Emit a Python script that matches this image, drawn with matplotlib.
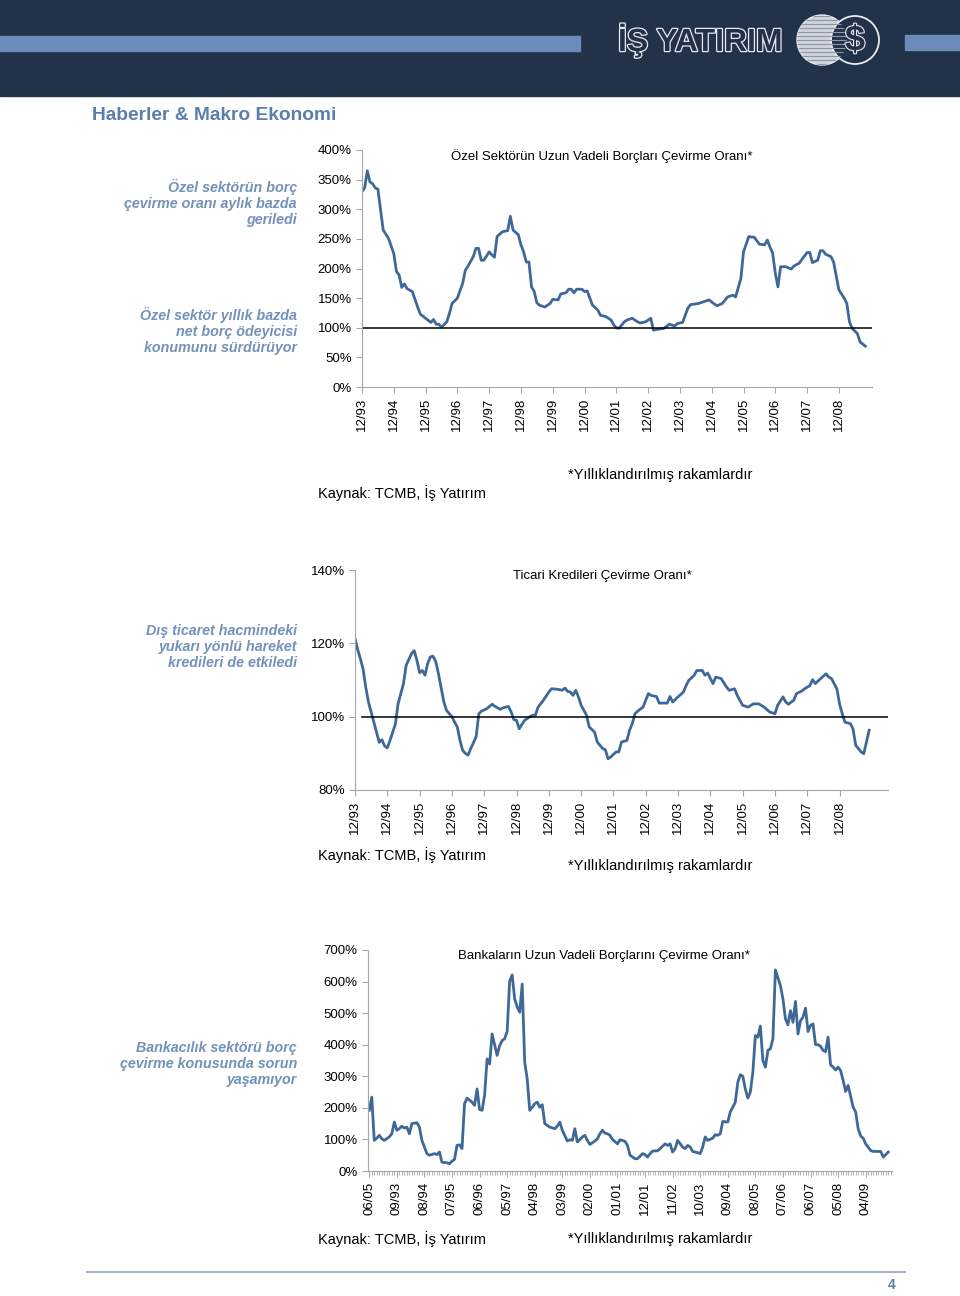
import matplotlib
matplotlib.use("Agg")
import matplotlib.pyplot as plt
from matplotlib.patches import Rectangle, Circle
import matplotlib.patheffects as pe

plt.rcParams['font.family'] = ['Liberation Sans', 'DejaVu Sans']

W, H = 960, 1296

# --- chart 1: Ozel sektor uzun vadeli borc cevirme orani (month index from 12/93) ---
m1 = [0, 1, 2, 3, 4, 5, 6, 8, 9, 10, 12, 13, 14, 15, 16, 17, 19, 21, 22, 24, 26, 27, 28, 29, 30,
      32, 33, 34, 36, 38, 39, 40, 42, 43, 44, 45, 46, 48, 49, 50, 51, 53, 55, 56, 57, 59, 60, 61,
      62, 63, 64, 65, 66, 67, 69, 71, 72, 74, 75, 77, 78, 79, 80, 81, 83, 84, 85, 86, 87, 89, 90,
      92, 94, 95, 96, 97, 99, 100, 102, 104, 105, 107, 109, 110, 111, 114, 116, 118, 119, 121,
      123, 124, 127, 129, 131, 133, 134, 136, 138, 140, 141, 143, 144, 146, 147, 148, 150, 152,
      153, 154, 155, 156, 157, 158, 160, 162, 163, 165, 166, 168, 169, 170, 172, 173, 174, 175,
      177, 178, 179, 180, 182, 183, 184, 185, 187, 188, 190]
v1 = [330, 336, 365, 346, 343, 336, 334, 265, 258, 251, 225, 195, 189, 168, 174, 166, 161, 135,
      123, 116, 109, 114, 106, 106, 101, 110, 124, 141, 150, 175, 197, 204, 220, 234, 234, 214,
      214, 228, 223, 219, 254, 262, 264, 288, 265, 257, 240, 228, 211, 211, 169, 161, 142, 138,
      135, 141, 148, 147, 157, 159, 165, 165, 159, 165, 165, 161, 162, 150, 138, 130, 121, 119,
      113, 105, 100, 99, 110, 113, 116, 110, 108, 110, 116, 96, 97, 99, 106, 103, 107, 109, 133,
      139, 141, 144, 147, 140, 137, 141, 152, 155, 152, 183, 228, 254, 253, 253, 241, 240, 248,
      236, 226, 192, 169, 203, 203, 199, 204, 209, 215, 227, 227, 210, 214, 230, 230, 224, 220,
      211, 187, 164, 150, 141, 110, 99, 90, 76, 69]
ticks1 = ["12/93", "12/94", "12/95", "12/96", "12/97", "12/98", "12/99", "12/00",
          "12/01", "12/02", "12/03", "12/04", "12/05", "12/06", "12/07", "12/08"]

# --- chart 2: Ticari kredileri cevirme orani (month index from 12/93) ---
m2 = [0, 1, 2, 3, 4, 5, 7, 8, 9, 10, 11, 12, 13, 15, 16, 18, 19, 21, 22, 23, 24, 25, 26, 27, 28,
      29, 30, 31, 33, 34, 36, 37, 38, 39, 40, 41, 42, 43, 45, 46, 47, 49, 51, 52, 54, 55, 57, 58,
      59, 60, 61, 62, 63, 65, 66, 67, 68, 70, 72, 73, 75, 77, 78, 79, 80, 81, 82, 83, 84, 86, 87,
      89, 90, 92, 93, 94, 95, 97, 98, 99, 101, 102, 103, 104, 105, 107, 108, 109, 110, 112, 113,
      116, 117, 118, 120, 122, 123, 124, 126, 127, 129, 130, 131, 133, 134, 136, 138, 139, 141,
      142, 144, 146, 148, 150, 152, 154, 156, 157, 159, 160, 161, 163, 164, 166, 167, 169, 170,
      171, 173, 175, 176, 177, 179, 180, 181, 182, 184, 185, 186, 188, 189, 191]
v2 = [121.3, 118.3, 115.8, 113, 108, 104, 98.5, 95.8, 93, 93.7, 92, 91.5, 93.5, 98, 103.5, 109,
      114, 117.2, 118, 115.4, 112, 112.6, 111.3, 114.5, 116.3, 116.5, 115, 111.7, 104, 101.7, 100,
      98.5, 97.2, 93.5, 90.8, 90, 89.5, 91.3, 94.5, 100.8, 101.5, 102.2, 103.4, 102.8, 102, 102.4,
      102.8, 101.3, 99.2, 99, 96.7, 97.9, 99, 100, 100.4, 100.4, 102.6, 104.5, 106.7, 107.6, 107.5,
      107.2, 107.8, 106.9, 106.7, 105.8, 107.2, 105.4, 103.1, 100.4, 97.2, 95.8, 93.1, 91.3, 91,
      88.5, 89, 90.4, 90.4, 93.1, 93.5, 96.3, 98.1, 100.8, 101.5, 102.6, 104.5, 106.3, 105.8, 105.5,
      103.7, 103.7, 105.5, 104, 105.4, 106.7, 108.5, 109.9, 111.3, 112.6, 112.6, 111.3, 111.9, 109,
      110.8, 110.4, 108.1, 107.2, 107.6, 105.8, 103.1, 102.6, 103.5, 103.5, 102.6, 101.3, 100.8,
      103.1, 105.4, 104, 103.4, 104.5, 106.3, 107, 107.6, 108.5, 110.1, 109, 110.4, 111.7, 110.8,
      110.4, 107.6, 103.5, 100.8, 98.5, 98.1, 96.7, 92.2, 90.4, 89.9, 96.3]
ticks2 = ticks1

# --- chart 3: Bankalarin uzun vadeli borclarini cevirme orani (monthly index) ---
m3 = [0, 1, 2, 3, 4, 5, 6, 8, 9, 10, 11, 12, 13, 14, 15, 16, 17, 19, 20, 21, 22, 23, 24, 26, 27,
      28, 29, 31, 32, 33, 34, 35, 36, 37, 38, 39, 41, 42, 43, 44, 45, 46, 47, 48, 49, 51, 52, 53,
      54, 55, 56, 57, 58, 59, 60, 61, 62, 63, 64, 65, 66, 67, 68, 69, 70, 72, 74, 75, 76, 77, 79,
      80, 81, 82, 83, 85, 86, 87, 88, 90, 91, 92, 93, 94, 95, 96, 97, 99, 100, 102, 103, 104, 106,
      107, 109, 110, 111, 112, 113, 115, 116, 118, 119, 120, 121, 122, 123, 125, 126, 127, 128,
      129, 131, 132, 133, 134, 135, 137, 138, 139, 140, 141, 143, 144, 145, 146, 147, 148, 149,
      150, 151, 152, 153, 154, 155, 156, 157, 158, 159, 160, 161, 162, 164, 165, 166, 167, 168,
      169, 170, 171, 172, 173, 174, 175, 176, 177, 178, 179, 180, 181, 182, 183, 184, 185, 186,
      187, 188, 189, 190, 191, 193, 194, 195, 196, 197, 198, 200, 201, 203, 204, 205, 206, 207]
v3 = [192, 234, 97, 104, 113, 102, 97, 108, 118, 155, 129, 134, 142, 136, 139, 118, 150, 153,
      139, 97, 76, 55, 50, 55, 52, 60, 28, 26, 23, 31, 37, 81, 83, 71, 213, 231, 218, 208, 260,
      195, 192, 239, 355, 339, 434, 366, 397, 413, 419, 442, 601, 621, 545, 520, 503, 592, 345,
      292, 192, 202, 213, 218, 202, 210, 150, 139, 134, 142, 155, 129, 95, 99, 97, 134, 92, 108,
      113, 97, 84, 95, 102, 118, 129, 120, 118, 113, 100, 86, 99, 94, 81, 50, 39, 39, 55, 52, 44,
      55, 63, 64, 71, 86, 81, 86, 60, 71, 97, 76, 71, 81, 76, 62, 58, 55, 76, 108, 97, 104, 115,
      113, 118, 157, 155, 187, 202, 218, 281, 305, 300, 260, 231, 250, 313, 429, 424, 459, 350,
      329, 382, 387, 419, 637, 587, 545, 482, 463, 508, 471, 537, 434, 476, 487, 516, 442, 461,
      466, 400, 400, 395, 382, 378, 424, 336, 329, 320, 329, 318, 287, 252, 271, 202, 187, 134,
      111, 104, 86, 65, 62, 62, 62, 44, 52, 60]
ticks3 = ["06/05", "09/93", "08/94", "07/95", "06/96", "05/97", "04/98", "03/99", "02/00",
          "01/01", "12/01", "11/02", "10/03", "09/04", "08/05", "07/06", "06/07", "05/08", "04/09"]

NAVY = '#223249'
BAR = '#6b8cba'
HEAD = '#5b7fad'
SIDE = '#7391b9'
LINE = '#3d6898'
AXC = '#a6a6a6'

fig = plt.figure(figsize=(W / 100, H / 100), dpi=100)

bg = fig.add_axes([0, 0, 1, 1])
bg.set_xlim(0, W)
bg.set_ylim(H, 0)
bg.axis('off')

# header
bg.add_patch(Rectangle((0, 0), W, 96, color=NAVY))
bg.add_patch(Rectangle((0, 36), 580, 15, color=BAR))
bg.add_patch(Rectangle((905, 35), 55, 15, color=BAR))
sph = Circle((822, 40), 25, facecolor='#cfd4dc', edgecolor='#e8ecf2', lw=1)
bg.add_patch(sph)
for k in range(-24, 25, 4):
    bg.plot([797, 847], [40 + k, 40 + k], color='#8c96a6', lw=0.8, clip_path=sph)
bg.text(618, 41, "İŞ YATIRIM", fontsize=23, fontweight='bold', color=NAVY, va='center',
        ha='left', path_effects=[pe.withStroke(linewidth=1.8, foreground='#e8ecf2')])
bg.add_patch(Circle((855, 40), 24, facecolor=NAVY, edgecolor='#e8ecf2', lw=1.3))
bg.text(855, 41, "$", fontsize=26, color=NAVY, ha='center', va='center', fontweight='bold',
        path_effects=[pe.withStroke(linewidth=1.6, foreground='#e8ecf2')])

bg.text(92, 116, "Haberler & Makro Ekonomi", fontsize=13.8, fontweight='bold', color=HEAD,
        va='center', ha='left')

# side comments
side_kw = dict(fontsize=10.3, fontweight='bold', fontstyle='italic', color=SIDE,
               ha='right', va='center', linespacing=1.15)
bg.text(297, 203, "Özel sektörün borç\nçevirme oranı aylık bazda\ngeriledi", **side_kw)
bg.text(297, 331, "Özel sektör yıllık bazda\nnet borç ödeyicisi\nkonumunu sürdürüyor", **side_kw)
bg.text(297, 647, "Dış ticaret hacmindeki\nyukarı yönlü hareket\nkredileri de etkiledi", **side_kw)
bg.text(297, 1064, "Bankacılık sektörü borç\nçevirme konusunda sorun\nyaşamıyor", **side_kw)

# source notes
note_kw = dict(fontsize=10.5, color='black', ha='left', va='center')
for ky, ny in [(493, 475), (855, 866), (1239, 1239)]:
    bg.text(318, ky, "Kaynak: TCMB, İş Yatırım", **note_kw)
    bg.text(568, ny, "*Yıllıklandırılmış rakamlardır", **note_kw)

# footer
bg.plot([87, 905], [1272, 1272], color='#a9b5c6', lw=1.5)
bg.text(892, 1285, "4", fontsize=10, fontweight='bold', color=HEAD, ha='center', va='center')


def rect(l, t, r, b):
    return [l / W, 1 - b / H, (r - l) / W, (b - t) / H]


def style(ax):
    ax.set_facecolor('none')
    for s in ['top', 'right']:
        ax.spines[s].set_visible(False)
    for s in ['left', 'bottom']:
        ax.spines[s].set_color(AXC)
        ax.spines[s].set_linewidth(0.8)
    ax.tick_params(axis='both', colors=AXC, labelcolor='black', labelsize=9.5, length=4, width=0.8)
    ax.tick_params(axis='x', labelrotation=90)


# chart 1
ax1 = fig.add_axes(rect(362, 150, 872, 387))
style(ax1)
ax1.plot(m1, v1, color=LINE, lw=2.0, solid_joinstyle='round')
ax1.axhline(100, color='black', lw=1.1)
ax1.set_xlim(0, 192.5)
ax1.set_ylim(0, 400)
ax1.set_yticks(range(0, 401, 50))
ax1.set_yticklabels([f"{t}%" for t in range(0, 401, 50)])
ax1.set_xticks([12 * i for i in range(len(ticks1))])
ax1.set_xticklabels(ticks1)
ax1.text(0.47, 0.975, "Özel Sektörün Uzun Vadeli Borçları Çevirme Oranı*", transform=ax1.transAxes,
         ha='center', va='center', fontsize=9.5)

# chart 2
ax2 = fig.add_axes(rect(355, 570, 888, 790))
style(ax2)
ax2.plot(m2, v2, color=LINE, lw=2.0, solid_joinstyle='round')
ax2.axhline(100, xmin=0.013, color='black', lw=1.1)
ax2.set_xlim(0, 198)
ax2.set_ylim(80, 140)
ax2.set_yticks([80, 100, 120, 140])
ax2.set_yticklabels(["80%", "100%", "120%", "140%"])
ax2.set_xticks([12 * i for i in range(len(ticks2))])
ax2.set_xticklabels(ticks2)
ax2.text(0.465, 0.975, "Ticari Kredileri Çevirme Oranı*", transform=ax2.transAxes,
         ha='center', va='center', fontsize=9.5)

# chart 3
ax3 = fig.add_axes(rect(368, 950, 892, 1171))
style(ax3)
ax3.plot(m3, v3, color=LINE, lw=2.0, solid_joinstyle='round')
ax3.set_xlim(-0.5, 208.5)
ax3.set_ylim(0, 700)
ax3.set_yticks(range(0, 701, 100))
ax3.set_yticklabels([f"{t}%" for t in range(0, 701, 100)])
ax3.set_xticks([11 * i for i in range(len(ticks3))])
ax3.set_xticklabels(ticks3)
ax3.set_xticks(range(0, 209), minor=True)
ax3.tick_params(axis='x', which='minor', length=3, width=0.6, colors=AXC)
ax3.text(0.45, 0.975, "Bankaların Uzun Vadeli Borçlarını Çevirme Oranı*", transform=ax3.transAxes,
         ha='center', va='center', fontsize=9.5)

fig.savefig("out.png", dpi=100)
